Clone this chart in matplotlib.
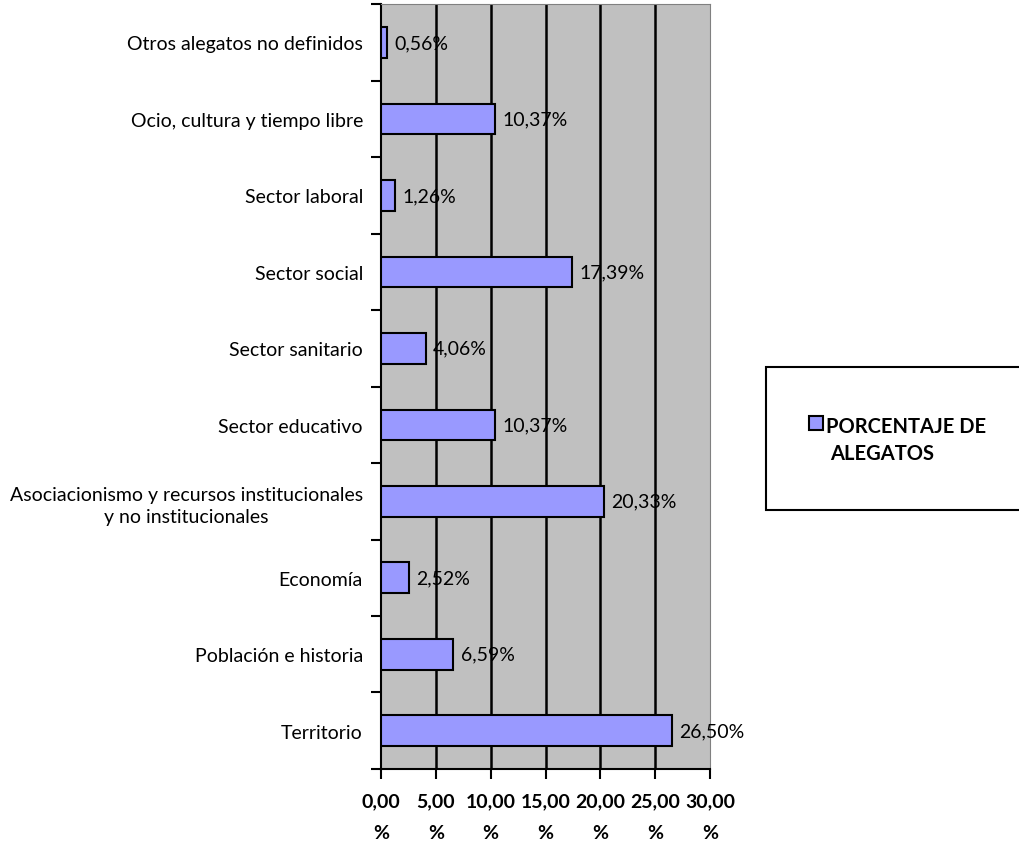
import matplotlib.pyplot as plt
from matplotlib.patches import Rectangle
import numpy as np

plt.rcParams['font.family'] = ['Lato', 'DejaVu Sans']

# categories bottom to top
categorias = ['Territorio', 'Población e historia', 'Economía',
              'Asociacionismo y recursos institucionales\ny no institucionales',
              'Sector educativo', 'Sector sanitario', 'Sector social',
              'Sector laboral', 'Ocio, cultura y tiempo libre',
              'Otros alegatos no definidos']
porcentajes = [26.50, 6.59, 2.52, 20.33, 10.37, 4.06, 17.39, 1.26, 10.37, 0.56]
x_ticks = [0, 5, 10, 15, 20, 25, 30]
x_labels = ['0,00\n%', '5,00\n%', '10,00\n%', '15,00\n%', '20,00\n%', '25,00\n%', '30,00\n%']
serie = 'PORCENTAJE DE\nALEGATOS'

fig = plt.figure(figsize=(10.19, 8.45), dpi=100)
ax = fig.add_axes([0.3739, 0.0888, 0.3229, 0.905])
ax.set_facecolor('#C0C0C0')

pos = np.arange(len(categorias))
ax.barh(pos, porcentajes, height=0.4, color='#9999FF', edgecolor='black',
        linewidth=1.5, zorder=3, label=serie)

for p, v in zip(pos, porcentajes):
    ax.annotate(('%.2f%%' % v).replace('.', ','), (v, p), xytext=(5.5, 0),
                textcoords='offset points', va='center', ha='left', fontsize=14)

ax.set_xlim(0, 30)
ax.set_ylim(-0.5, len(categorias) - 0.5)
for t in x_ticks[1:-1]:
    ax.axvline(t, color='black', linewidth=1.8, zorder=1)

ax.set_xticks(x_ticks)
ax.set_xticklabels(x_labels, fontweight='bold', fontsize=14, linespacing=2.05)
ax.tick_params(axis='x', length=7, width=1.5, pad=10)

ax.set_yticks(pos)
ax.set_yticklabels(categorias, fontsize=14, linespacing=1.4)
ax.set_yticks(np.arange(-0.5, len(categorias), 1), minor=True)
ax.tick_params(axis='y', which='major', length=0, pad=13)
ax.tick_params(axis='y', which='minor', length=7, width=1.5)
for lab in ax.get_yticklabels():
    lab.set_multialignment('center')

ax.spines['left'].set_linewidth(1.5)
ax.spines['bottom'].set_linewidth(1.5)
ax.spines['right'].set_color('#808080')
ax.spines['top'].set_color('#808080')

# legend box, drawn by hand like the Excel one
W, H = 1019, 845
fig.patches.append(Rectangle((766 / W, 1 - 511 / H), 260 / W, 143 / H,
                             transform=fig.transFigure, facecolor='white',
                             edgecolor='black', linewidth=1.5))
fig.patches.append(Rectangle((809 / W, 1 - 431 / H), 14 / W, 14 / H,
                             transform=fig.transFigure, facecolor='#9999FF',
                             edgecolor='black', linewidth=1.5, zorder=5))
l1, l2 = serie.split('\n')
fig.text(826 / W, 1 - 427 / H, l1, fontsize=14.5, fontweight='bold', va='center')
fig.text(830 / W, 1 - 454 / H, l2, fontsize=14.5, fontweight='bold', va='center')

plt.savefig('out.png', dpi=100)
